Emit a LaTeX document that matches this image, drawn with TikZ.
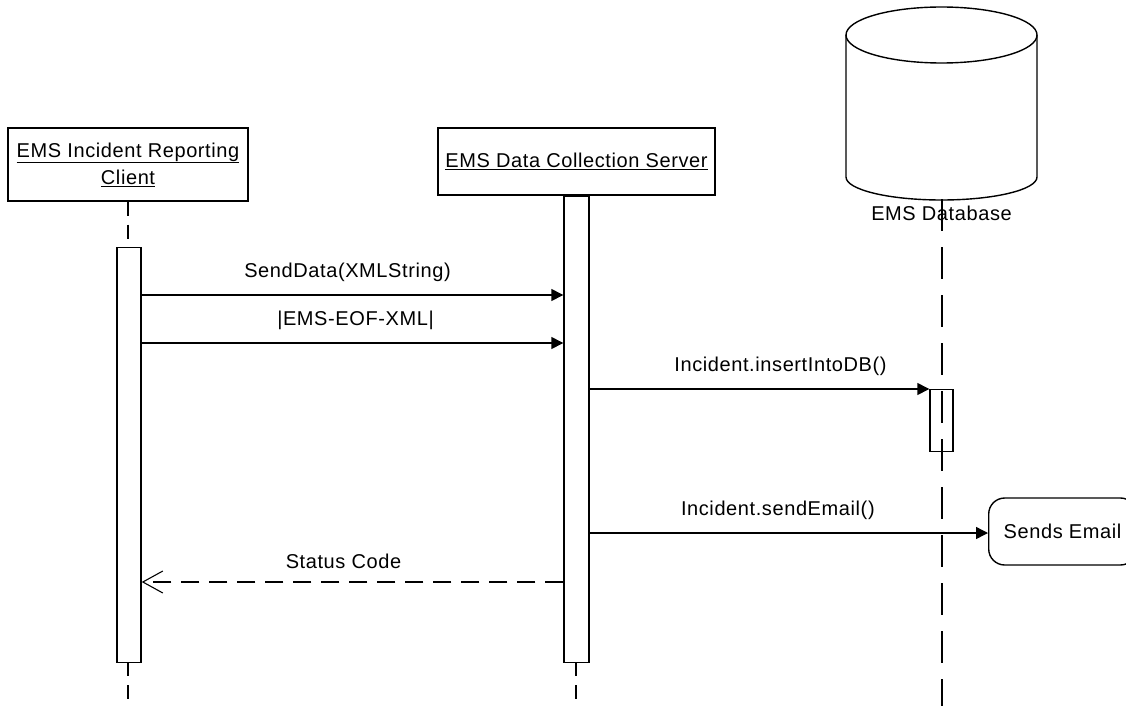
\documentclass[tikz,border=0pt]{standalone}
\usepackage{fontspec}
\setmainfont{Liberation Sans}[LetterSpace=3]
\usetikzlibrary{arrows.meta}

\begin{document}
\begin{tikzpicture}[x=1pt,y=-1pt,line width=1.4pt,
    font=\fontsize{20pt}{27pt}\selectfont,
    objbox/.style={draw,fill=white,align=center,inner sep=0pt},
    actbar/.style={draw,fill=white,inner sep=0pt,anchor=north},
    lifeline/.style={dash pattern=on 14pt off 9pt},
    dblifeline/.style={dash pattern=on 32pt off 16pt},
    msg/.style={-{Triangle[length=12pt,width=12pt]}},
    reply/.style={dash pattern=on 18pt off 10pt,-{Straight Barb[length=20pt,width=22pt,line width=1.1pt]}},
    msglabel/.style={above=9pt}]
    \useasboundingbox (0,0) rectangle (1126,706);
    % objects
    \node[objbox,minimum width=240pt,minimum height=73pt] (client) at (128,164.5)
        {\underline{EMS Incident Reporting}\\\underline{Client}};
    \node[objbox,minimum width=277pt,minimum height=67pt] (server) at (576.5,161.5)
        {\underline{EMS Data Collection Server}};
    \draw (846,35) -- (846,177) arc[start angle=180,end angle=360,x radius=95.5pt,y radius=23pt] -- (1037,35);
    \draw (941.5,35) ellipse [x radius=95.5pt,y radius=28pt];
    \node (dblabel) at (941.5,213) {EMS Database};
    \coordinate (dbtop) at (942,199);
    % lifelines
    \coordinate (cend) at (128,706);
    \coordinate (send) at (576,706);
    \coordinate (dend) at (942,706);
    \draw[lifeline] (client.south) -- (128,247);
    \draw[lifeline] (128,662) -- (cend);
    \draw[lifeline] (576,662) -- (send);
    \draw[dblifeline] (dbtop) -- (dend);
    % activations
    \node[actbar,minimum width=24pt,minimum height=415pt] (cact) at (129,247) {};
    \node[actbar,minimum width=25pt,minimum height=466pt] (sact) at (576.5,196) {};
    \node[actbar,fill=none,minimum width=23pt,minimum height=62pt] (dact) at (941.5,389) {};
    \node[draw,fill=white,rounded corners=16pt,minimum height=67pt,inner xsep=15pt,anchor=west] (email) at (988,531.5) {Sends Email};
    % messages
    \coordinate (m1) at (0,295);
    \coordinate (m2) at (0,343);
    \coordinate (m3) at (0,389);
    \coordinate (m4) at (0,533);
    \coordinate (m5) at (0,582);
    \draw[msg] (cact.east |- m1) -- node[msglabel,xshift=-5pt] (l1) {SendData(XMLString)} (sact.west |- m1);
    \draw[msg] (cact.east |- m2) -- node[msglabel,xshift=3pt] (l2) {|EMS-EOF-XML|} (sact.west |- m2);
    \draw[msg] (sact.east |- m3) -- node[msglabel,xshift=21pt] (l3) {Incident.insertIntoDB()} (dact.west |- m3);
    \draw[msg] (sact.east |- m4) -- node[msglabel,xshift=-11pt] (l4) {Incident.sendEmail()} (email.west |- m4);
    \draw[reply] (sact.west |- m5) -- node[msglabel,xshift=-9pt] (l5) {Status Code} (cact.east |- m5);
\end{tikzpicture}
\end{document}
